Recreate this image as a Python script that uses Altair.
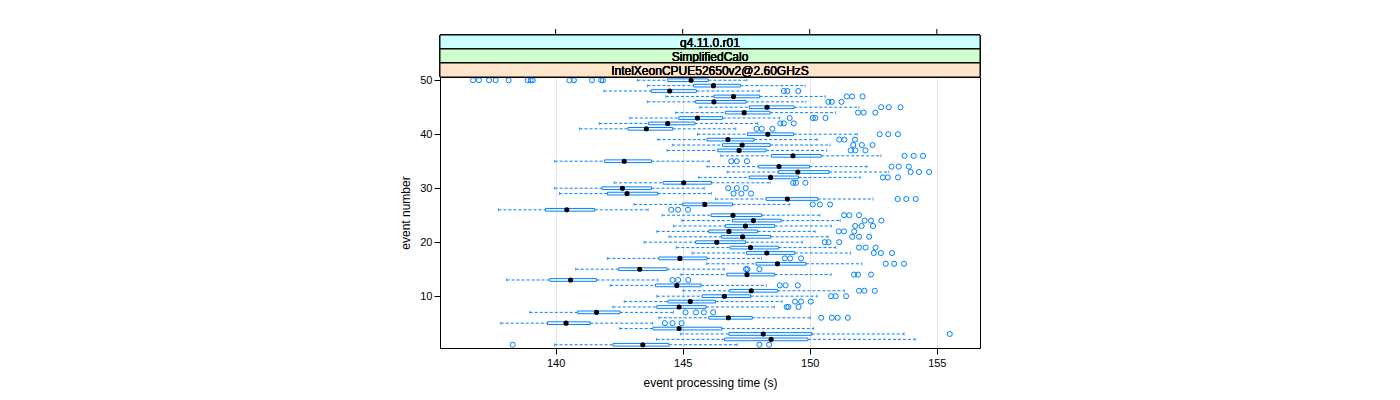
import altair as alt
import pandas as pd

# ---------------- data ----------------
events = list(range(1, 51))
whisker_low = [139.96, 143.97, 144.92, 142.52, 137.84, 144.06, 138.98, 142.25, 142.70, 143.98,
               145.01, 142.15, 138.07, 144.93, 140.79, 145.94, 142.04, 145.37, 144.75, 143.48,
               144.46, 143.98, 144.64, 144.97, 144.19, 137.75, 143.09, 146.29, 140.15, 139.96,
               142.30, 145.63, 146.75, 145.96, 139.96, 146.50, 144.39, 144.59, 144.02, 145.58,
               140.94, 141.72, 142.92, 144.72, 145.67, 143.61, 144.34, 141.90, 143.61, 143.22]
q1 = [142.26, 146.65, 146.82, 143.83, 139.68, 146.03, 140.87, 143.98, 144.42, 145.77,
      146.85, 143.93, 139.77, 146.74, 142.48, 147.89, 144.06, 147.51, 146.87, 145.51,
      146.53, 146.02, 146.68, 146.96, 146.12, 139.60, 145.00, 148.28, 142.04, 141.82,
      144.23, 147.62, 148.76, 147.99, 141.93, 148.50, 146.38, 146.57, 145.96, 147.55,
      142.85, 143.66, 144.85, 146.68, 147.62, 145.51, 146.23, 143.76, 145.43, 144.41]
median = [143.43, 148.48, 148.17, 144.86, 140.41, 146.80, 141.61, 144.86, 145.30, 146.64,
          147.70, 144.77, 140.59, 147.53, 143.31, 148.73, 144.89, 148.31, 147.67, 146.34,
          147.36, 146.82, 147.47, 147.78, 146.98, 140.44, 145.87, 149.12, 142.81, 142.63,
          145.04, 148.46, 149.53, 148.79, 142.70, 149.34, 147.22, 147.34, 146.78, 148.35,
          143.57, 144.41, 145.58, 147.42, 148.32, 146.23, 147.00, 144.49, 146.21, 145.33]
q3 = [144.46, 149.93, 150.08, 146.54, 141.36, 147.74, 142.53, 145.92, 146.29, 147.67,
      148.73, 145.72, 141.61, 148.62, 144.39, 149.85, 145.96, 149.41, 148.77, 147.48,
      148.46, 147.95, 148.62, 148.88, 148.11, 141.54, 146.96, 150.32, 144.02, 143.77,
      146.13, 149.56, 150.76, 149.99, 143.77, 150.45, 148.28, 148.44, 147.81, 149.37,
      144.61, 145.48, 146.57, 148.44, 149.39, 147.49, 148.03, 145.54, 147.27, 146.01]
whisker_high = [147.15, 154.15, 153.71, 150.15, 143.82, 150.03, 144.64, 148.61, 148.91, 150.29,
                151.36, 148.29, 144.02, 150.84, 146.64, 152.05, 148.10, 151.61, 151.02, 149.71,
                150.72, 150.21, 150.85, 151.20, 150.40, 143.64, 149.21, 152.49, 146.13, 145.85,
                148.44, 151.98, 153.11, 152.25, 146.05, 152.80, 150.67, 150.80, 150.29, 151.87,
                147.09, 147.95, 148.82, 151.01, 151.94, 149.85, 150.61, 148.03, 149.82, 147.53]
outliers = [
    [138.31, 148.02, 148.40],
    [],
    [155.51],
    [],
    [144.30, 144.60, 144.96],
    [150.45, 150.87, 151.10, 151.50],
    [145.11, 145.52, 145.83, 146.20],
    [149.09, 149.16, 149.56],
    [149.42, 149.66, 150.04],
    [150.84, 151.02, 151.43],
    [151.94, 152.15, 152.56],
    [148.82, 149.05, 149.53],
    [144.60, 144.82, 145.22],
    [151.74, 151.90, 152.41],
    [147.49, 147.55, 148.02],
    [152.99, 153.32, 153.71],
    [149.02, 149.23, 149.66],
    [152.52, 152.80, 153.24],
    [151.94, 152.20, 152.59],
    [150.59, 150.74, 151.16],
    [151.67, 151.94, 152.34],
    [151.14, 151.35, 151.75],
    [151.79, 152.04, 152.49],
    [152.16, 152.41, 152.82],
    [151.35, 151.56, 151.94],
    [144.55, 144.82, 145.21],
    [150.12, 150.40, 150.80],
    [153.46, 153.80, 154.17],
    [147.00, 147.31, 147.69],
    [146.79, 147.13, 147.48],
    [149.35, 149.46, 149.83],
    [152.88, 153.07, 153.47],
    [153.97, 154.30, 154.70],
    [153.22, 153.50, 153.90],
    [146.91, 147.13, 147.53],
    [153.73, 154.09, 154.46],
    [151.61, 151.80, 152.19],
    [151.71, 152.05, 152.47],
    [151.16, 151.36, 151.78],
    [152.75, 153.09, 153.47],
    [147.91, 148.11, 148.53],
    [148.84, 148.98, 149.37],
    [149.21, 150.12, 150.22, 150.62],
    [151.90, 152.12, 152.58],
    [152.81, 153.11, 153.57],
    [150.73, 150.87, 151.25],
    [151.46, 151.67, 152.08],
    [148.98, 149.12, 149.55],
    [],
    [136.75, 136.98, 137.38, 137.64, 138.15, 138.90, 139.02, 139.10,
     140.54, 140.72, 141.43, 141.79, 141.86],
]
x_ticks = [140, 145, 150, 155]
y_ticks = [10, 20, 30, 40, 50]
strip_labels = ["g4.11.0.r01", "SimplifiedCalo", "IntelXeonCPUE52650v2@2.60GHzS"]
strip_colors = ["#ccffff", "#ccffcc", "#ffe5cc"]

# ---------------- tables ----------------
df = pd.DataFrame({"event": events, "lo": whisker_low, "q1": q1, "med": median,
                   "q3": q3, "hi": whisker_high})
df["y0"] = df["event"] - 0.25
df["y1"] = df["event"] + 0.25
out_df = pd.DataFrame([{"event": e, "value": v} for e, vals in zip(events, outliers) for v in vals])
tick_df = pd.DataFrame({"t": x_ticks})

W, H = 540, 271
BLUE = "#0080ff"
FONT = "Liberation Sans"

xscale = alt.Scale(domain=[135.45, 156.7], nice=False, zero=False)
yscale = alt.Scale(domain=[0.4, 50.6], nice=False, zero=False)
x_axis = alt.Axis(values=x_ticks, title="event processing time (s)", grid=True,
                  gridColor="#e6e6e6", domain=False, tickColor="black", tickSize=6,
                  labelPadding=3, titlePadding=9, format="d")
y_axis = alt.Axis(values=y_ticks, title="event number", grid=False, domain=False,
                  tickColor="black", tickSize=6, labelPadding=2, titlePadding=7, format="d")


def X(f):
    return alt.X(f, type="quantitative", scale=xscale, axis=x_axis)


def Y(f):
    return alt.Y(f, type="quantitative", scale=yscale, axis=y_axis)


base = alt.Chart(df)
wlo = base.mark_rule(color=BLUE, strokeDash=[3, 2], strokeWidth=1).encode(
    x=X("lo"), x2="q1", y=Y("event"))
whi = base.mark_rule(color=BLUE, strokeDash=[3, 2], strokeWidth=1).encode(
    x=X("q3"), x2="hi", y=Y("event"))
caps = base.transform_fold(["lo", "hi"], as_=["k", "v"]).mark_tick(
    color=BLUE, orient="vertical", size=3, thickness=1).encode(x=X("v:Q"), y=Y("event"))
box = base.mark_rect(fillOpacity=0, stroke=BLUE, strokeWidth=1).encode(
    x=X("q1"), x2="q3", y=Y("y0"), y2="y1")
med = base.mark_circle(color="black", size=26, opacity=1).encode(x=X("med"), y=Y("event"))
outs = alt.Chart(out_df).mark_point(shape="circle", filled=False, color=BLUE, size=26,
                                    strokeWidth=1, opacity=1).encode(
    x=X("value"), y=Y("event"))

layers = [wlo, whi, caps, box, med, outs]

# strips above the panel
strip_h = 14
for i, (lab, col) in enumerate(zip(strip_labels, strip_colors)):
    top = -3 * strip_h + i * strip_h
    layers.append(alt.Chart(tick_df).mark_rect(fill=col, stroke="black", strokeWidth=1).encode(
        x=alt.value(0), x2=alt.value(W), y=alt.value(top), y2=alt.value(top + strip_h)))
    layers.append(alt.Chart(tick_df).mark_text(font=FONT, fontSize=12, fontWeight="normal",
                                               color="black", baseline="middle",
                                               align="center").encode(
        x=alt.value(W / 2), y=alt.value(top + strip_h / 2 + 0.5), text=alt.value(lab)))

# tick marks above the strips
layers.append(alt.Chart(tick_df).mark_rule(color="black", strokeWidth=1).encode(
    x=X("t"), y=alt.value(-3 * strip_h - 6), y2=alt.value(-3 * strip_h)))

chart = alt.layer(*layers).properties(
    width=W, height=H,
    autosize=alt.AutoSizeParams(type="none"),
    padding={"left": 432, "top": 69, "right": 20, "bottom": 50},
).configure_view(stroke="black", strokeWidth=1).configure_axis(
    labelFont=FONT, titleFont=FONT, labelFontSize=11, titleFontSize=12,
    labelColor="black", titleColor="black", titleFontWeight="normal")

chart.save("out.html", embed_options={"renderer": "svg", "actions": False})
